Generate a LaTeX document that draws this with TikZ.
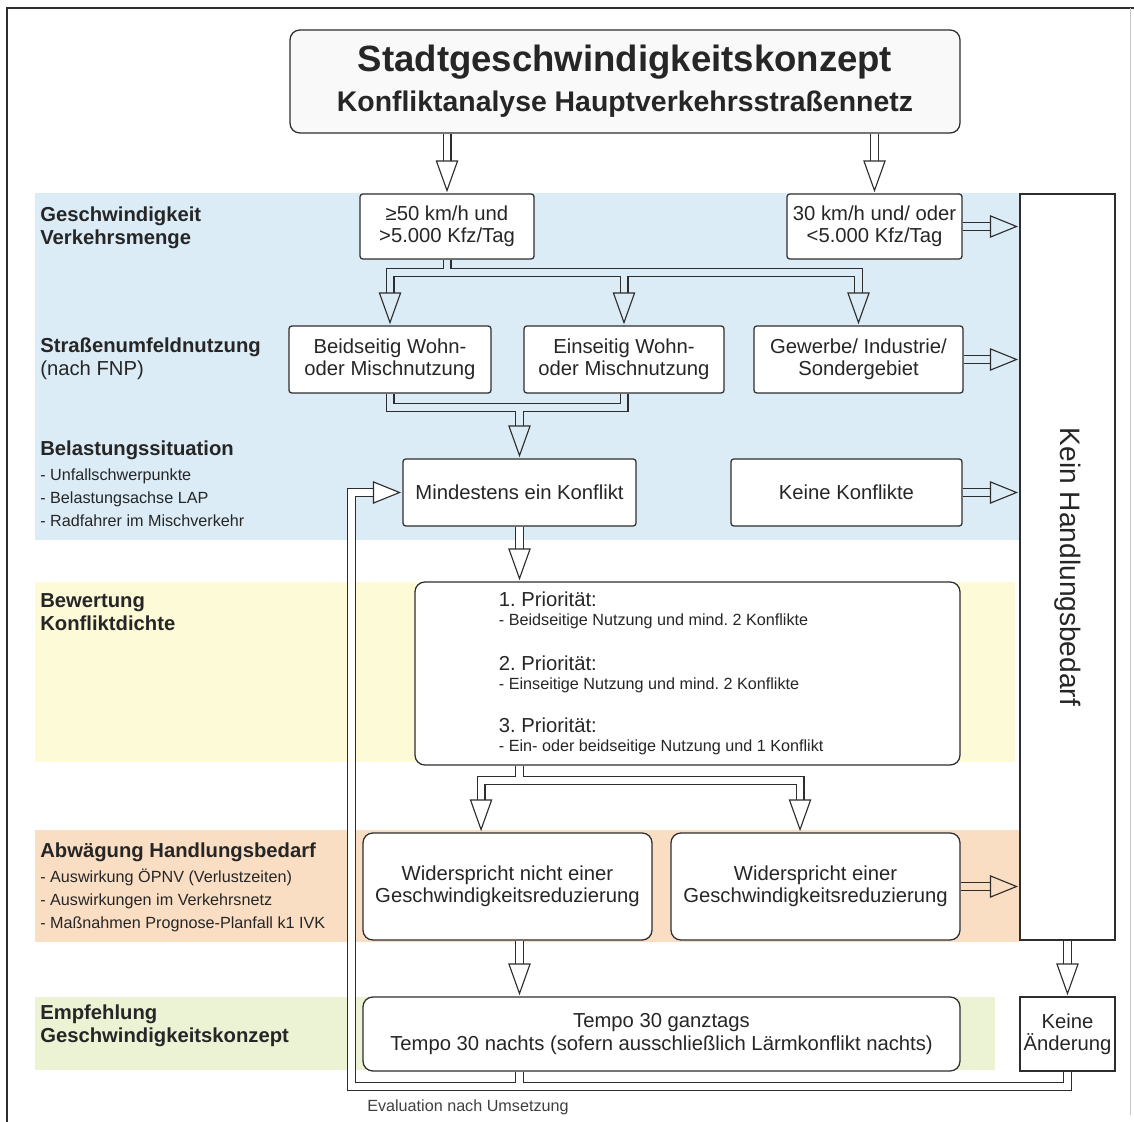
\documentclass[tikz,border=0pt]{standalone}
\usepackage{fontspec}
\setmainfont{Liberation Sans}
\usepackage{graphicx}
\usepackage{xcolor}
\usetikzlibrary{positioning}
\frenchspacing

\definecolor{blueband}{RGB}{219,236,246}
\definecolor{yellowband}{RGB}{252,250,215}
\definecolor{orangeband}{RGB}{250,222,196}
\definecolor{greenband}{RGB}{236,243,213}
\definecolor{linegray}{RGB}{45,45,45}

\newcommand\normfont{\fontsize{14.4}{15.8}\selectfont}
\newcommand\smallfont{\fontsize{11.5}{15.6}\selectfont}
\newcommand\priofont{\fontsize{14.4}{13.5}\selectfont}
\newcommand\subfont{\fontsize{11.5}{13.5}\selectfont}
\newcommand\headdown[2][white]{\draw[head, fill=#1] ([yshift=2pt]#2) -- ++(-7.5pt,21pt) -- ++(15pt,0pt) -- cycle;}
\newcommand\headright[2][white]{\draw[head, fill=#1] ([xshift=-2pt]#2) -- ++(-18.5pt,7.5pt) -- ++(0pt,-15pt) -- cycle;}

\tikzset{
  box/.style={draw=linegray, line width=0.9pt, fill=white, rounded corners=2pt, align=center, inner sep=0pt, font=\normfont, text=black!85},
  rbox/.style={box, rounded corners=7pt},
  bw/.style={minimum width=#1*0.025cm},
  bh/.style={minimum height=#1*0.025cm},
  shaft/.style={draw=linegray, line width=0.8pt, double=#1, double distance=4.8pt},
  shaft/.default=white,
  head/.style={draw=linegray, line width=0.8pt, line join=miter},
  rowlabel/.style={anchor=north west, align=flush left, inner sep=0pt, font=\fontsize{14.4}{16.3}\selectfont, text=black!85}
}

\begin{document}
\begin{tikzpicture}[x=0.025cm, y=-0.025cm]
    \useasboundingbox (0,0) rectangle (1134,1122);
    \fill[white] (0,0) rectangle (1134,1122);
    \fill[blueband] (35,193) rectangle (1020,540);
    \fill[yellowband] (35,582) rectangle (1015,762);
    \fill[orangeband] (35,830) rectangle (1020,942);
    \fill[greenband] (35,997) rectangle (995,1070);
    \draw[linegray, line width=1.6pt] (7,1122) -- (7,8) -- (1134,8);
    \draw[gray!45, line width=0.6pt] (1130,8) -- (1130,1115);

    \node[rowlabel] (lab1) at (40,207) {\textbf{Geschwindigkeit}\\\textbf{Verkehrsmenge}};
    \node[rowlabel] (lab2) at (40,338) {\textbf{Straßenumfeldnutzung}\\(nach FNP)};
    \node[rowlabel] (lab3) at (40,441) {\textbf{Belastungssituation}\\[1pt]\smallfont - Unfallschwerpunkte\\\smallfont - Belastungsachse LAP\\\smallfont - Radfahrer im Mischverkehr};
    \node[rowlabel] (lab4) at (40,593) {\textbf{Bewertung}\\\textbf{Konfliktdichte}};
    \node[rowlabel] (lab5) at (40,843) {\textbf{Abwägung Handlungsbedarf}\\[1pt]\smallfont - Auswirkung ÖPNV (Verlustzeiten)\\\smallfont - Auswirkungen im Verkehrsnetz\\\smallfont - Maßnahmen Prognose-Planfall k1 IVK};
    \node[rowlabel] (lab6) at (40,1005) {\textbf{Empfehlung}\\\textbf{Geschwindigkeitskonzept}};

    \node[rbox, fill=gray!5, bw=670, bh=103, font=\bfseries] (title) at (625,81.5) {\fontsize{26}{28.3}\selectfont Stadtgeschwindigkeitskonzept\\[7.3pt]\fontsize{20.2}{28.3}\selectfont Konfliktanalyse Hauptverkehrsstraßennetz};
    \node[box, bw=174, bh=65] (A) at (447,226.5) {≥50 km/h und\\>5.000 Kfz/Tag};
    \node[box, bw=175, bh=65] (B) at (874.5,226.5) {30 km/h und/ oder\\<5.000 Kfz/Tag};
    \node[box, rounded corners=0pt, bw=95, bh=746, font=\fontsize{20}{24}\selectfont] (Kein) at (1067.5,567) {\rotatebox{-90}{Kein Handlungsbedarf}};
    \node[box, bw=202, bh=67] (C1) at (390,359.5) {Beidseitig Wohn-\\oder Mischnutzung};
    \node[box, bw=200, bh=67] (C2) at (624,359.5) {Einseitig Wohn-\\oder Mischnutzung};
    \node[box, bw=209, bh=67] (C3) at (858.5,359.5) {Gewerbe/ Industrie/\\Sondergebiet};
    \node[box, bw=233, bh=67] (D1) at (519.5,492.5) {Mindestens ein Konflikt};
    \node[box, bw=231, bh=67] (D2) at (846.5,492.5) {Keine Konflikte};
    \node[rbox, bw=545, bh=183, text width=9.425cm, align=flush left, font=\priofont] (E) at (687.5,673.5)
        {\priofont 1. Priorität:\\\subfont - Beidseitige Nutzung und mind. 2 Konflikte\\[18.4pt]
         \priofont 2. Priorität:\\\subfont - Einseitige Nutzung und mind. 2 Konflikte\\[17pt]
         \priofont 3. Priorität:\\\subfont - Ein- oder beidseitige Nutzung und 1 Konflikt};
    \node[rbox, bw=289, bh=107] (F1) at (507.5,886.5) {Widerspricht nicht einer\\Geschwindigkeitsreduzierung};
    \node[rbox, bw=289, bh=107] (F2) at (815.5,886.5) {Widerspricht einer\\Geschwindigkeitsreduzierung};
    \node[rbox, bw=597, bh=74] (G) at (661.5,1034) {Tempo 30 ganztags\\Tempo 30 nachts (sofern ausschließlich Lärmkonflikt nachts)};
    \node[box, rounded corners=0pt, bw=95, bh=74] (H) at (1067.5,1034) {Keine\\Änderung};
    \node[anchor=base west, inner sep=0pt, font=\smallfont, text=black!75] (eval) at (367,1111) {Evaluation nach Umsetzung};

    \draw[shaft] (A.north |- title.south) -- ([yshift=22pt]A.north);
    \headdown{A.north}
    \draw[shaft] (B.north |- title.south) -- ([yshift=22pt]B.north);
    \headdown{B.north}

    \draw[shaft=blueband] (A.south) -- ++(0,13) coordinate (a1) -| ([yshift=22pt]C1.north)
        (a1) -| ([yshift=22pt]C3.north)
        (a1 -| C2.north) -- ([yshift=22pt]C2.north);
    \headdown[blueband]{C1.north}
    \headdown[blueband]{C2.north}
    \headdown[blueband]{C3.north}

    \draw[shaft=blueband] (C1.south) -- ++(0,14) coordinate (c1) -| (C2.south)
        (c1 -| D1.north) -- ([yshift=22pt]D1.north);
    \headdown[blueband]{D1.north}

    \draw[shaft=blueband] (B.east) -- ([xshift=-19.5pt]B.east -| Kein.west);
    \headright[blueband]{B.east -| Kein.west}
    \draw[shaft=blueband] (C3.east) -- ([xshift=-19.5pt]C3.east -| Kein.west);
    \headright[blueband]{C3.east -| Kein.west}
    \draw[shaft=blueband] (D2.east) -- ([xshift=-19.5pt]D2.east -| Kein.west);
    \headright[blueband]{D2.east -| Kein.west}
    \draw[shaft=orangeband] (F2.east) -- ([xshift=-19.5pt]F2.east -| Kein.west);
    \headright[orangeband]{F2.east -| Kein.west}

    \draw[shaft] (D1.south) -- ([yshift=22pt]E.north -| D1.south);
    \headdown{E.north -| D1.south}

    \coordinate (f1in) at ([xshift=-18.8pt]F1.north);
    \coordinate (f2in) at ([xshift=-11pt]F2.north);
    \draw[shaft] (E.south -| D1.south) -- ++(0,15) coordinate (e1) -| ([yshift=22pt]f1in)
        (e1) -| ([yshift=22pt]f2in);
    \headdown{f1in}
    \headdown{f2in}

    \draw[shaft] (F1.south -| D1.south) -- ([yshift=22pt]G.north -| D1.south);
    \headdown{G.north -| D1.south}
    \draw[shaft] (Kein.south) -- ([yshift=22pt]H.north);
    \headdown{H.north}

    \coordinate (back) at (351.5,1086.5);
    \draw[shaft] (H.south) |- (back) |- ([xshift=-19.5pt]D1.west)
        (G.south -| D1.south) -- ++(0,15.5);
    \headright{D1.west}
\end{tikzpicture}
\end{document}
